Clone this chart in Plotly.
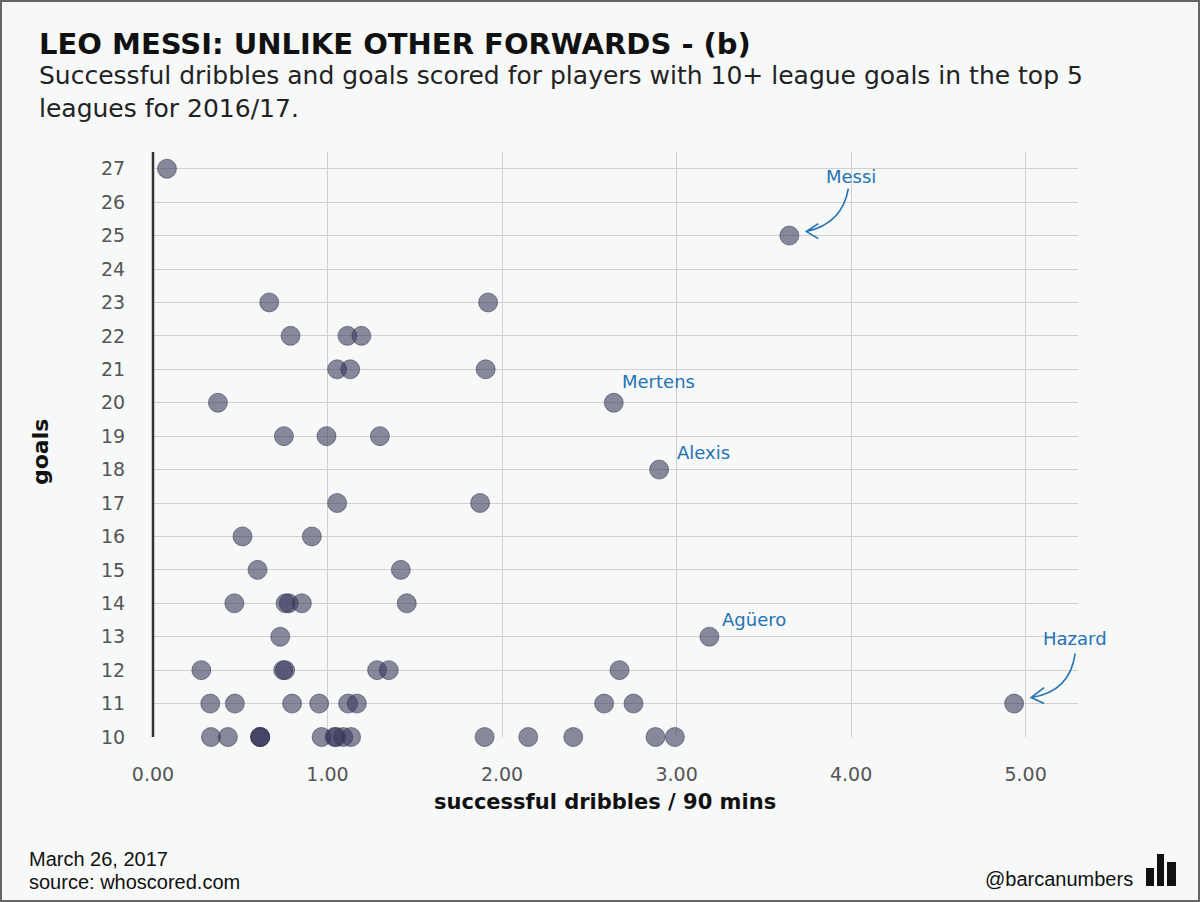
import plotly.graph_objects as go

# ---- data ----
goals = [27,
         23, 23,
         22, 22, 22,
         21, 21, 21,
         20,
         19, 19, 19,
         17, 17,
         16, 16,
         15, 15,
         14, 14, 14, 14, 14,
         13,
         12, 12, 12, 12, 12, 12,
         11, 11, 11, 11, 11, 11, 11, 11,
         10, 10, 10, 10, 10, 10, 10, 10, 10, 10, 10, 10, 10, 10, 10]
dribbles = [0.08,
            0.666, 1.92,
            0.788, 1.114, 1.194,
            1.055, 1.13, 1.906,
            0.372,
            0.75, 0.994, 1.30,
            1.055, 1.874,
            0.513, 0.910,
            0.599, 1.42,
            0.466, 0.76, 0.778, 0.853, 1.454,
            0.729,
            0.277, 0.746, 0.757, 1.284, 1.351, 2.673,
            0.328, 0.469, 0.797, 0.952, 1.118, 1.168, 2.585, 2.753,
            0.332, 0.429, 0.614, 0.614, 0.614, 0.966, 1.04, 1.05, 1.09, 1.135,
            1.90, 2.15, 2.408, 2.879, 2.99]

named_players = ["Messi", "Mertens", "Alexis", "Agüero", "Hazard"]
named_dribbles = [3.646, 2.64, 2.90, 3.188, 4.934]
named_goals = [25, 20, 18, 13, 11]

x_ticks = [0, 1, 2, 3, 4, 5]
y_ticks = list(range(10, 28))

# ---- layout constants ----
W, H = 1200, 902
L, R, T, B = 153, 122, 152, 165
PW, PH = W - L - R, H - T - B


def px(xp):
    return (xp - L) / PW


def py(yp):
    return (T + PH - yp) / PH


BG = "#f7f8f8"
BLUE = "#2573b3"
FONT = "DejaVu Sans"
FOOT = "Liberation Sans Narrow, Liberation Sans"

fig = go.Figure()
all_x = dribbles + named_dribbles
all_y = goals + named_goals
fig.add_trace(go.Scatter(
    x=all_x, y=all_y, mode="markers",
    marker=dict(size=19, color="rgba(55,55,92,0.58)",
                line=dict(color="rgba(45,45,70,0.5)", width=1)),
    cliponaxis=False, hoverinfo="x+y", showlegend=False))

# labels for named players
label_pos = {
    "Messi": dict(xanchor="center", xshift=62, yshift=59),
    "Mertens": dict(xanchor="left", xshift=6, yshift=21),
    "Alexis": dict(xanchor="left", xshift=16, yshift=17),
    "Agüero": dict(xanchor="left", xshift=11, yshift=17),
    "Hazard": dict(xanchor="center", xshift=61, yshift=65),
}
annotations = []
for n, xv, yv in zip(named_players, named_dribbles, named_goals):
    p = label_pos[n]
    annotations.append(dict(x=xv, y=yv, xref="x", yref="y", text=n, showarrow=False,
                            xanchor=p["xanchor"], yanchor="middle",
                            xshift=p["xshift"], yshift=p["yshift"],
                            font=dict(family=FONT, size=18, color=BLUE)))

shapes = []
arrow_paths = {
    "Messi": "M 59,47 Q 53,12 17,4 M 29,12 L 17,4 L 29,-3",
    "Hazard": "M 61,50 Q 56,12 17,6 M 30,16 L 17,6 L 30,0",
}
for n, xv, yv in zip(named_players, named_dribbles, named_goals):
    if n in arrow_paths:
        shapes.append(dict(type="path", xref="x", yref="y",
                           xsizemode="pixel", ysizemode="pixel",
                           xanchor=xv, yanchor=yv, path=arrow_paths[n],
                           line=dict(color=BLUE, width=1.6)))

# title & subtitle
annotations.append(dict(x=px(37), y=py(44), xref="paper", yref="paper",
                        text="<b>LEO MESSI: UNLIKE OTHER FORWARDS - (b)</b>",
                        showarrow=False, xanchor="left", yanchor="middle",
                        font=dict(family=FONT, size=29, color="#111111")))
annotations.append(dict(x=px(37), y=py(92), xref="paper", yref="paper",
                        text="Successful dribbles and goals scored for players with 10+ league goals in the top 5<br>leagues for 2016/17.",
                        showarrow=False, xanchor="left", yanchor="middle", align="left",
                        font=dict(family=FONT, size=25, color="#222222")))
# axis titles
annotations.append(dict(x=px(40), y=py(452), xref="paper", yref="paper",
                        text="<b>goals</b>", textangle=-90, showarrow=False,
                        xanchor="center", yanchor="middle",
                        font=dict(family=FONT, size=22, color="#111111")))
annotations.append(dict(x=px(605), y=py(802), xref="paper", yref="paper",
                        text="<b>successful dribbles / 90 mins</b>", showarrow=False,
                        xanchor="center", yanchor="middle",
                        font=dict(family=FONT, size=21, color="#111111")))
# footer
annotations.append(dict(x=px(27), y=py(859), xref="paper", yref="paper",
                        text="March 26, 2017", showarrow=False, xanchor="left", yanchor="middle",
                        font=dict(family=FOOT, size=20, color="#111111")))
annotations.append(dict(x=px(27), y=py(882), xref="paper", yref="paper",
                        text="source: whoscored.com", showarrow=False, xanchor="left", yanchor="middle",
                        font=dict(family=FOOT, size=20, color="#111111")))
annotations.append(dict(x=px(1135), y=py(879), xref="paper", yref="paper",
                        text="@barcanumbers", showarrow=False, xanchor="right", yanchor="middle",
                        font=dict(family=FOOT, size=20, color="#111111")))

# logo bars
for x0, x1, top in [(1146, 1154, 868), (1157, 1164, 854), (1167, 1176, 862)]:
    shapes.append(dict(type="rect", xref="paper", yref="paper",
                       x0=px(x0), x1=px(x1), y0=py(886), y1=py(top),
                       fillcolor="#111111", line=dict(width=0)))
# y axis line
shapes.append(dict(type="line", xref="paper", yref="paper", x0=0, x1=0, y0=0, y1=1,
                   line=dict(color="#333333", width=2.5)))
# frame
shapes.append(dict(type="rect", xref="paper", yref="paper",
                   x0=px(1), x1=px(W - 1), y0=py(H - 1), y1=py(1),
                   line=dict(color="#666666", width=2), fillcolor="rgba(0,0,0,0)"))

fig.update_layout(
    width=W, height=H,
    margin=dict(l=L, r=R, t=T, b=B, pad=0),
    paper_bgcolor=BG, plot_bgcolor=BG,
    font=dict(family=FONT, color="#555555"),
    annotations=annotations, shapes=shapes,
    xaxis=dict(range=[0, 5.3], tickvals=x_ticks, tickformat=".2f",
               showgrid=True, gridcolor="#d0d0d0", gridwidth=1,
               zeroline=False, showline=False,
               ticks="outside", ticklen=20, tickcolor="rgba(0,0,0,0)",
               tickfont=dict(family=FONT, size=19, color="#555555")),
    yaxis=dict(range=[10, 27.5], tickvals=y_ticks,
               showgrid=True, gridcolor="#d0d0d0", gridwidth=1,
               zeroline=False, showline=False,
               ticks="outside", ticklen=23, tickcolor="rgba(0,0,0,0)",
               tickfont=dict(family=FONT, size=19, color="#555555")),
)

fig.write_html("out.html", config={"displayModeBar": False},
               post_script="document.body.style.margin='0';document.body.style.background='#f7f8f8';")
